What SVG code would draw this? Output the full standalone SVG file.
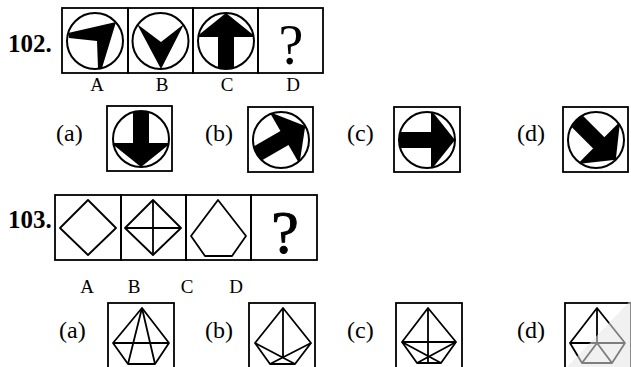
<svg xmlns="http://www.w3.org/2000/svg" width="631" height="367" viewBox="0 0 631 367">
<style>
.box{fill:none;stroke:#000;stroke-width:1.8}
.cir{fill:none;stroke:#000;stroke-width:2}
.fig{fill:none;stroke:#000;stroke-width:1.8;stroke-linejoin:round}
.num{font-family:"Liberation Serif",serif;font-weight:bold;font-size:25px;fill:#000}
.lab{font-family:"Liberation Serif",serif;font-size:19px;fill:#000;text-anchor:middle}
.opt{font-family:"Liberation Serif",serif;font-size:24px;fill:#000}
.q{font-family:"Liberation Serif",serif;fill:#000;text-anchor:middle}
</style>
<defs>
<clipPath id="cc"><circle r="28"/></clipPath>
<g id="arrR" clip-path="url(#cc)">
<rect x="-30" y="-8" width="35" height="16"/>
<polygon points="4,-30 28,0 4,30"/>
</g>
</defs>
<rect width="631" height="367" fill="#fff"/>

<g id="q102">
<text class="num" x="8" y="52">102.</text>
<g id="p102A">
<rect class="box" x="62" y="8" width="66" height="65"/>
<circle class="cir" cx="95" cy="41" r="28"/>
<polygon points="116,22 68,33 69,38 97,41 98,68 102,68" fill="#000"/>
</g>
<g id="p102B">
<rect class="box" x="128" y="8" width="65" height="65"/>
<circle class="cir" cx="160.5" cy="41" r="28"/>
<polygon points="137,24 161,42 184,24 161,69" fill="#000"/>
</g>
<g id="p102C">
<rect class="box" x="193" y="8" width="65" height="65"/>
<circle class="cir" cx="226" cy="41" r="28"/>
<use href="#arrR" transform="translate(226,41) rotate(-90)"/>
</g>
<g id="p102D">
<rect class="box" x="258" y="8" width="65" height="65"/>
<text class="q" x="291" y="64" font-size="56">?</text>
</g>
<text class="lab" x="97" y="91">A</text>
<text class="lab" x="162" y="91">B</text>
<text class="lab" x="227" y="91">C</text>
<text class="lab" x="293" y="91">D</text>

<text class="opt" x="56" y="141">(a)</text>
<g id="o102a">
<rect class="box" x="107" y="106" width="65" height="65"/>
<circle class="cir" cx="141" cy="139" r="28"/>
<use href="#arrR" transform="translate(141,139) rotate(90)"/>
</g>
<text class="opt" x="205" y="141">(b)</text>
<g id="o102b">
<rect class="box" x="248" y="107" width="65" height="65"/>
<circle class="cir" cx="281" cy="140" r="28"/>
<use href="#arrR" transform="translate(281,140) rotate(-30)"/>
</g>
<text class="opt" x="347" y="141">(c)</text>
<g id="o102c">
<rect class="box" x="394" y="107" width="66" height="65"/>
<circle class="cir" cx="427" cy="140" r="28"/>
<use href="#arrR" transform="translate(427,140)"/>
</g>
<text class="opt" x="517" y="141">(d)</text>
<g id="o102d">
<rect class="box" x="563" y="107" width="65" height="65"/>
<circle class="cir" cx="596" cy="140" r="28"/>
<use href="#arrR" transform="translate(596,140) rotate(45)"/>
</g>
</g>

<g id="q103">
<text class="num" x="8" y="228">103.</text>
<g id="p103A">
<rect class="box" x="55" y="195" width="66" height="65"/>
<polygon class="fig" points="88,200 116,228 88,255 60,228"/>
</g>
<g id="p103B">
<rect class="box" x="121" y="195" width="65" height="65"/>
<polygon class="fig" points="153,200 181,228 153,255 125,228"/>
<path class="fig" d="M153,200 V255 M125,228 H181"/>
</g>
<g id="p103C">
<rect class="box" x="186" y="195" width="65" height="65"/>
<polygon class="fig" points="218,200 246,236 232,256 205,256 191,236"/>
</g>
<g id="p103D">
<rect class="box" x="251" y="195" width="66" height="65"/>
<text class="q" x="285" y="253" font-size="62" stroke="#000" stroke-width="1">?</text>
</g>
<text class="lab" x="87" y="293">A</text>
<text class="lab" x="134" y="293">B</text>
<text class="lab" x="187" y="293">C</text>
<text class="lab" x="236" y="293">D</text>

<text class="opt" x="59" y="338">(a)</text>
<g id="o103a">
<rect class="box" x="108" y="303" width="66" height="66"/>
<polygon class="fig" points="142,308 169,343 155,364 128,364 113,343"/>
<path class="fig" d="M113,343 H169 M142,308 L128,364 M142,308 L155,364"/>
</g>
<text class="opt" x="205" y="338">(b)</text>
<g id="o103b">
<rect class="box" x="249" y="303" width="66" height="66"/>
<polygon class="fig" points="283,308 311,343 295,364 270,364 255,343"/>
<path class="fig" d="M283,308 V357.5 M255,343 L295,364 M311,343 L270,364"/>
</g>
<text class="opt" x="347" y="338">(c)</text>
<g id="o103c">
<rect class="box" x="396" y="303" width="66" height="66"/>
<polygon class="fig" points="428,308 456,342 441,363 417,363 402,342"/>
<path class="fig" d="M402,342 H456 M428,308 V363 M402,342 L441,363 M456,342 L417,363"/>
</g>
<text class="opt" x="517" y="338">(d)</text>
<g id="o103d">
<rect class="box" x="565" y="303" width="66" height="66"/>
<polygon class="fig" points="597,308 625,343 612,363 582,363 570,343"/>
<path class="fig" d="M570,343 H625 M597,308 V343 L582,363 M597,343 L612,363"/>
<polygon points="567,367 631,300 631,367" fill="#e6e6e6" opacity="0.55"/>
</g>
</g>
</svg>
